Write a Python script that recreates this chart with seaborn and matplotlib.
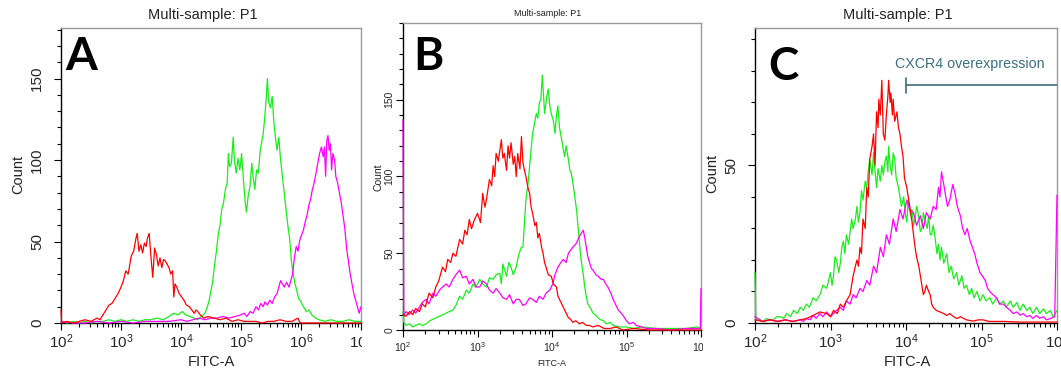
import numpy as np
import pandas as pd
import matplotlib
matplotlib.use("Agg")
import matplotlib.pyplot as plt
import seaborn as sns
from matplotlib.ticker import LogLocator, NullFormatter, MultipleLocator, FixedLocator
from matplotlib.patches import Rectangle

# ---------------- data (log10 FITC-A bin, count) ----------------
a_red_log = [2.00, 2.01, 2.10, 2.20, 2.30, 2.40, 2.50, 2.55, 2.60, 2.65,
             2.70, 2.75, 2.80, 2.85, 2.90, 2.95, 3.00, 3.04, 3.08, 3.12,
             3.17, 3.21, 3.25, 3.27, 3.30, 3.33, 3.36, 3.39, 3.42, 3.44,
             3.47, 3.50, 3.53, 3.56, 3.59, 3.62, 3.65, 3.68, 3.71, 3.74,
             3.77, 3.80, 3.83, 3.86, 3.88, 3.90, 3.93, 3.97, 4.01, 4.05,
             4.09, 4.14, 4.18, 4.22, 4.25, 4.28, 4.32, 4.38, 4.45, 4.55,
             4.65, 4.75, 4.85, 4.95, 5.05, 5.15, 5.25, 5.35, 5.45, 5.55,
             5.65, 5.75, 5.85, 5.95, 5.97, 6.00, 6.10, 6.30, 6.60, 7.00]
a_red_cnt = [8, 0, 1, 0, 1, 2, 1, 2, 3, 2,
             5, 8, 11, 12, 15, 18, 22, 26, 32, 30,
             41, 44, 52, 55, 44, 48, 43, 49, 47, 52,
             55, 40, 28, 46, 42, 35, 40, 34, 39, 38,
             36, 34, 30, 32, 16, 24, 22, 18, 16, 14,
             11, 10, 8, 6, 8, 7, 5, 3, 4, 3,
             2, 3, 1, 2, 1, 1, 1, 0, 1, 1,
             2, 1, 1, 3, 1, 0, 0, 0, 0, 0]

a_grn_log = [2.00, 2.10, 2.20, 2.30, 2.40, 2.50, 2.60, 2.70, 2.80, 2.90,
             3.00, 3.10, 3.20, 3.30, 3.40, 3.50, 3.60, 3.70, 3.80, 3.88,
             3.95, 4.02, 4.08, 4.15, 4.22, 4.28, 4.34, 4.40, 4.44, 4.47,
             4.50, 4.53, 4.56, 4.59, 4.62, 4.65, 4.68, 4.71, 4.74, 4.77,
             4.79, 4.81, 4.84, 4.87, 4.89, 4.92, 4.95, 4.98, 5.01, 5.04,
             5.07, 5.09, 5.12, 5.15, 5.18, 5.20, 5.23, 5.26, 5.29, 5.32,
             5.34, 5.37, 5.40, 5.42, 5.44, 5.46, 5.49, 5.52, 5.55, 5.58,
             5.60, 5.63, 5.66, 5.69, 5.72, 5.75, 5.78, 5.81, 5.84, 5.87,
             5.90, 5.93, 5.96, 6.00, 6.04, 6.09, 6.13, 6.18, 6.24, 6.30,
             6.40, 6.50, 6.60, 6.70, 6.80, 6.90, 7.00]
a_grn_cnt = [1, 0, 1, 0, 1, 0, 1, 1, 2, 1,
             2, 1, 2, 1, 2, 2, 3, 2, 4, 6,
             5, 7, 5, 4, 3, 2, 4, 6, 10, 14,
             20, 26, 36, 44, 54, 60, 70, 74, 82, 86,
             104, 96, 98, 114, 100, 92, 101, 94, 104, 88,
             74, 68, 78, 84, 98, 90, 82, 94, 92, 106,
             110, 116, 128, 138, 150, 136, 132, 139, 122, 112,
             106, 114, 100, 90, 80, 70, 60, 52, 38, 30,
             24, 20, 15, 13, 10, 7, 8, 5, 3, 2,
             1, 2, 1, 1, 2, 1, 1]

a_mag_log = [2.00, 2.20, 2.40, 2.60, 2.80, 3.00, 3.20, 3.40, 3.60, 3.80,
             4.00, 4.10, 4.20, 4.30, 4.40, 4.50, 4.60, 4.70, 4.80, 4.90,
             5.00, 5.05, 5.10, 5.15, 5.20, 5.25, 5.29, 5.33, 5.37, 5.40,
             5.44, 5.48, 5.52, 5.56, 5.60, 5.63, 5.66, 5.69, 5.72, 5.76,
             5.80, 5.83, 5.86, 5.89, 5.92, 5.95, 5.98, 6.01, 6.04, 6.07,
             6.10, 6.13, 6.16, 6.19, 6.22, 6.25, 6.28, 6.31, 6.34, 6.37,
             6.39, 6.41, 6.43, 6.45, 6.47, 6.49, 6.51, 6.53, 6.56, 6.58,
             6.61, 6.64, 6.67, 6.70, 6.73, 6.76, 6.79, 6.82, 6.85, 6.88,
             6.91, 6.94, 6.97, 7.00]
a_mag_cnt = [1, 0, 0, 1, 0, 1, 0, 1, 1, 1,
             2, 1, 2, 3, 2, 3, 3, 4, 3, 4,
             5, 6, 4, 7, 6, 10, 8, 12, 10, 13,
             11, 14, 12, 16, 18, 22, 26, 24, 22, 25,
             22, 26, 30, 40, 47, 44, 51, 54, 57, 62,
             66, 72, 76, 82, 86, 92, 98, 104, 108, 102,
             108, 90, 112, 115, 106, 110, 94, 104, 100, 90,
             86, 80, 74, 66, 58, 46, 38, 30, 24, 18,
             14, 10, 6, 10]

b_red_log = [2.00, 2.04, 2.09, 2.13, 2.17, 2.22, 2.26, 2.30, 2.35, 2.40,
             2.44, 2.48, 2.53, 2.57, 2.60, 2.64, 2.67, 2.71, 2.76, 2.80,
             2.83, 2.86, 2.89, 2.92, 2.96, 3.00, 3.04, 3.07, 3.10, 3.12,
             3.16, 3.19, 3.21, 3.23, 3.25, 3.28, 3.32, 3.34, 3.36, 3.39,
             3.41, 3.43, 3.45, 3.48, 3.50, 3.52, 3.54, 3.57, 3.59, 3.61,
             3.63, 3.65, 3.68, 3.70, 3.72, 3.74, 3.77, 3.79, 3.81, 3.83,
             3.86, 3.88, 3.90, 3.92, 3.95, 3.99, 4.02, 4.06, 4.08, 4.10,
             4.13, 4.15, 4.19, 4.22, 4.25, 4.28, 4.32, 4.37, 4.41, 4.46,
             4.50, 4.55, 4.62, 4.70, 4.78, 4.86, 4.95, 5.10, 5.30, 5.60,
             6.00]
b_red_cnt = [10, 9, 12, 10, 14, 12, 17, 15, 24, 21,
             28, 32, 41, 38, 46, 44, 50, 48, 59, 56,
             65, 62, 72, 66, 72, 76, 70, 89, 80, 85,
             98, 94, 107, 100, 115, 110, 124, 112, 115, 104,
             120, 112, 122, 108, 113, 100, 115, 105, 126, 109,
             104, 100, 92, 89, 80, 76, 68, 70, 60, 63,
             54, 50, 44, 41, 36, 35, 30, 28, 22, 20,
             17, 15, 11, 8, 7, 5, 6, 4, 5, 3,
             3, 2, 3, 1, 1, 2, 0, 1, 0, 0,
             0]

b_grn_log = [2.00, 2.01, 2.04, 2.09, 2.13, 2.17, 2.22, 2.26, 2.31, 2.36,
             2.40, 2.45, 2.49, 2.54, 2.58, 2.62, 2.67, 2.71, 2.76, 2.80,
             2.85, 2.89, 2.94, 2.98, 3.03, 3.07, 3.12, 3.16, 3.21, 3.25,
             3.30, 3.32, 3.34, 3.37, 3.39, 3.42, 3.45, 3.48, 3.52, 3.54,
             3.56, 3.59, 3.61, 3.63, 3.65, 3.68, 3.70, 3.72, 3.74, 3.77,
             3.79, 3.81, 3.83, 3.85, 3.87, 3.89, 3.90, 3.93, 3.95, 3.97,
             3.99, 4.02, 4.04, 4.06, 4.08, 4.10, 4.13, 4.15, 4.17, 4.19,
             4.22, 4.24, 4.26, 4.28, 4.30, 4.33, 4.35, 4.37, 4.39, 4.42,
             4.44, 4.46, 4.48, 4.52, 4.55, 4.60, 4.64, 4.69, 4.73, 4.78,
             4.82, 4.90, 5.00, 5.10, 5.20, 5.40, 5.60, 5.80, 5.95, 6.00]
b_grn_cnt = [12, 5, 3, 4, 2, 3, 4, 3, 4, 6,
             7, 8, 9, 10, 11, 12, 13, 16, 22, 20,
             26, 24, 30, 28, 33, 30, 28, 34, 33, 36,
             37, 30, 43, 38, 35, 44, 41, 36, 41, 46,
             50, 54, 54, 70, 85, 96, 107, 118, 128, 136,
             141, 138, 148, 150, 166, 150, 141, 152, 157, 146,
             141, 136, 128, 140, 146, 132, 124, 118, 113, 120,
             111, 104, 102, 96, 89, 78, 67, 56, 46, 36,
             28, 22, 17, 14, 11, 9, 7, 6, 4, 5,
             3, 2, 2, 1, 2, 1, 1, 1, 2, 1]

b_mag_log = [2.00, 2.01, 2.04, 2.08, 2.13, 2.17, 2.22, 2.26, 2.31, 2.35,
             2.40, 2.44, 2.49, 2.53, 2.58, 2.62, 2.67, 2.71, 2.76, 2.80,
             2.85, 2.89, 2.94, 2.98, 3.03, 3.07, 3.12, 3.16, 3.21, 3.25,
             3.30, 3.34, 3.39, 3.43, 3.48, 3.52, 3.56, 3.61, 3.65, 3.70,
             3.74, 3.79, 3.83, 3.88, 3.92, 3.97, 4.01, 4.04, 4.08, 4.12,
             4.15, 4.19, 4.22, 4.25, 4.28, 4.32, 4.35, 4.38, 4.42, 4.44,
             4.46, 4.48, 4.51, 4.53, 4.55, 4.59, 4.62, 4.66, 4.69, 4.72,
             4.75, 4.79, 4.82, 4.86, 4.89, 4.93, 4.96, 5.00, 5.04, 5.09,
             5.13, 5.20, 5.27, 5.40, 5.60, 5.80, 5.99, 6.00]
b_mag_cnt = [137, 9, 12, 10, 13, 11, 15, 18, 20, 17,
             24, 22, 26, 28, 30, 28, 33, 36, 39, 34,
             35, 30, 33, 28, 28, 32, 30, 26, 24, 27,
             24, 21, 20, 23, 17, 20, 20, 16, 17, 21,
             20, 18, 22, 20, 24, 26, 30, 36, 41, 44,
             46, 44, 50, 52, 54, 56, 59, 62, 65, 60,
             54, 48, 43, 40, 39, 36, 35, 33, 33, 30,
             28, 24, 20, 16, 13, 11, 9, 6, 4, 5,
             3, 2, 1, 1, 0, 1, 1, 27]

c_red_log = [2.00, 2.10, 2.20, 2.30, 2.40, 2.50, 2.60, 2.68, 2.77, 2.86,
             2.95, 3.00, 3.04, 3.09, 3.13, 3.17, 3.21, 3.26, 3.30, 3.35,
             3.37, 3.39, 3.41, 3.43, 3.46, 3.48, 3.50, 3.52, 3.55, 3.57,
             3.59, 3.61, 3.63, 3.64, 3.66, 3.68, 3.69, 3.70, 3.72, 3.74,
             3.76, 3.77, 3.79, 3.80, 3.82, 3.83, 3.85, 3.88, 3.90, 3.92,
             3.94, 3.96, 3.98, 4.01, 4.03, 4.05, 4.08, 4.10, 4.12, 4.14,
             4.17, 4.19, 4.21, 4.23, 4.25, 4.27, 4.30, 4.32, 4.34, 4.36,
             4.40, 4.45, 4.50, 4.54, 4.58, 4.63, 4.68, 4.72, 4.80, 4.89,
             4.96, 5.02, 5.10, 5.30, 5.50, 5.80, 6.00]
c_red_cnt = [1, 0.5, 1, 0.5, 1, 0.5, 1, 1.4, 2.4, 3.5,
             3, 2, 4, 3, 6, 5, 7, 9, 15, 20,
             18, 24, 22, 33, 30, 43, 40, 52, 56, 60,
             50, 67, 62, 71, 66, 77, 68, 60, 58, 66,
             72, 77, 70, 73, 66, 71, 64, 67, 62, 60,
             56, 53, 46, 43, 40, 37, 32, 28, 24, 21,
             18, 15, 12, 9, 10, 12, 10, 9, 6, 5,
             4, 3.5, 3, 2.4, 3, 2, 1.4, 2, 1, 0.6,
             1, 1, 0.5, 0.5, 0.3, 0.3, 0.3]

c_grn_log = [2.00, 2.01, 2.07, 2.11, 2.15, 2.20, 2.24, 2.29, 2.33, 2.38,
             2.42, 2.47, 2.51, 2.56, 2.60, 2.64, 2.68, 2.72, 2.77, 2.81,
             2.86, 2.90, 2.95, 2.98, 3.00, 3.02, 3.04, 3.06, 3.08, 3.11,
             3.13, 3.15, 3.17, 3.19, 3.21, 3.24, 3.26, 3.28, 3.30, 3.33,
             3.35, 3.37, 3.39, 3.41, 3.43, 3.46, 3.48, 3.50, 3.52, 3.55,
             3.57, 3.59, 3.61, 3.63, 3.66, 3.68, 3.70, 3.72, 3.74, 3.76,
             3.77, 3.79, 3.81, 3.83, 3.85, 3.87, 3.90, 3.92, 3.94, 3.97,
             3.99, 4.01, 4.03, 4.06, 4.08, 4.10, 4.12, 4.14, 4.16, 4.19,
             4.21, 4.23, 4.25, 4.28, 4.30, 4.32, 4.34, 4.36, 4.38, 4.41,
             4.43, 4.45, 4.47, 4.50, 4.54, 4.57, 4.60, 4.63, 4.67, 4.70,
             4.74, 4.77, 4.80, 4.84, 4.87, 4.90, 4.94, 4.98, 5.02, 5.06,
             5.11, 5.15, 5.20, 5.24, 5.29, 5.33, 5.38, 5.42, 5.47, 5.51,
             5.55, 5.60, 5.64, 5.68, 5.73, 5.77, 5.82, 5.86, 5.91, 5.95,
             6.00]
c_grn_cnt = [16, 1, 1, 0.5, 1.4, 1, 1, 2, 2, 1.5,
             3, 2, 4, 3, 5, 4, 6, 5, 8, 7,
             9, 12, 11, 14, 16, 12, 15, 21, 20, 16,
             19, 24, 26, 22, 28, 25, 29, 33, 30, 33,
             37, 32, 35, 42, 39, 45, 43, 48, 52, 47,
             54, 48, 43, 49, 45, 50, 47, 51, 53, 48,
             56, 50, 47, 54, 52, 46, 43, 40, 37, 40,
             35, 32, 39, 34, 36, 31, 33, 37, 35, 29,
             30, 35, 33, 30, 34, 28, 28, 31, 28, 22,
             25, 20, 24, 19, 22, 16, 18, 14, 16, 12,
             15, 11, 12, 9, 11, 8, 10, 7, 9, 7,
             8, 6, 8, 6, 7, 5, 7, 5, 6.5, 4,
             6, 4, 5, 3, 5, 3, 4.5, 3, 4, 2,
             4]

c_mag_log = [2.00, 2.10, 2.20, 2.30, 2.40, 2.50, 2.60, 2.64, 2.68, 2.73,
             2.77, 2.81, 2.86, 2.90, 2.95, 3.00, 3.04, 3.08, 3.13, 3.17,
             3.21, 3.26, 3.30, 3.34, 3.39, 3.43, 3.48, 3.52, 3.57, 3.61,
             3.66, 3.70, 3.74, 3.78, 3.83, 3.87, 3.92, 3.96, 4.01, 4.05,
             4.10, 4.14, 4.19, 4.23, 4.27, 4.32, 4.36, 4.40, 4.43, 4.45,
             4.47, 4.50, 4.52, 4.55, 4.58, 4.62, 4.65, 4.68, 4.72, 4.75,
             4.78, 4.81, 4.85, 4.88, 4.91, 4.94, 4.98, 5.01, 5.05, 5.08,
             5.11, 5.15, 5.20, 5.24, 5.29, 5.33, 5.38, 5.42, 5.47, 5.51,
             5.55, 5.60, 5.64, 5.68, 5.73, 5.77, 5.82, 5.86, 5.91, 5.97,
             6.00]
c_mag_cnt = [2, 0.5, 1, 0.5, 1, 0.5, 1, 0.5, 1.4, 1,
             2.4, 1.5, 3, 2, 3.5, 2, 3, 4, 5, 4,
             7, 6, 9, 8, 11, 10, 13.5, 12, 18, 16,
             24, 21, 28, 25, 33, 29, 36, 33, 39, 36,
             35, 31, 34, 30, 35, 33, 37, 36, 43, 40,
             48, 44, 41, 37, 39, 44, 41, 37, 34, 30,
             28, 30, 26, 24, 22, 19, 16, 15, 13.5, 11,
             10, 9, 8, 6, 6, 5, 4, 3, 3.5, 2.5,
             3, 2, 2.4, 1.5, 2.4, 1.5, 2, 1, 1.4, 2,
             40.6]

samples = ["green", "magenta", "red"]
palette = {"red": "#ff0000", "green": "#19ee19", "magenta": "#ff00ff"}

panel_data = {
    "A": {"red": (a_red_log, a_red_cnt), "green": (a_grn_log, a_grn_cnt), "magenta": (a_mag_log, a_mag_cnt)},
    "B": {"red": (b_red_log, b_red_cnt), "green": (b_grn_log, b_grn_cnt), "magenta": (b_mag_log, b_mag_cnt)},
    "C": {"red": (c_red_log, c_red_cnt), "green": (c_grn_log, c_grn_cnt), "magenta": (c_mag_log, c_mag_cnt)},
}

x_decades = {"A": [2, 3, 4, 5, 6, 7], "B": [2, 3, 4, 5, 6], "C": [2, 3, 4, 5, 6]}
y_major = {"A": [0, 50, 100, 150], "B": [0, 50, 100, 150], "C": [0, 50]}
y_top = {"A": 181, "B": 200, "C": 93.6}

title_text = "Multi-sample: P1"
x_label = "FITC-A"
y_label = "Count"
gate_text = "CXCR4 overexpression"
gate_start, gate_end, gate_level = 1e4, 1e6, 75.5

# ---------------- figure ----------------
W, H = 1061, 376
sns.set_style("ticks")
plt.rcParams["font.family"] = ["Liberation Sans", "DejaVu Sans"]
plt.rcParams["mathtext.fontset"] = "custom"
plt.rcParams["mathtext.rm"] = "Liberation Sans"
plt.rcParams["mathtext.it"] = "Liberation Sans:italic"
plt.rcParams["mathtext.bf"] = "Liberation Sans:bold"

fig = plt.figure(figsize=(W / 100, H / 100), dpi=100)
fig.patch.set_facecolor("white")


def rect(l, t, r, b):
    return [l / W, 1 - b / H, (r - l) / W, (b - t) / H]


def fp(x, y):
    return x / W, 1 - y / H


layout = {
    "A": dict(box=rect(61, 28, 361, 323), tick=11, ypad=7, title=(203, 15, 10.5),
              ylab=(18, 174, 10.5), xlab=(211, 362, 10.5), letter=(65, 70)),
    "B": dict(box=rect(403, 23, 701, 330), tick=7.5, ypad=1, title=(548, 13, 6.5),
              ylab=(378, 177, 7.5), xlab=(552, 364, 6.5), letter=(413, 70)),
    "C": dict(box=rect(755, 28, 1057, 323), tick=11, ypad=7, title=(898, 15, 10.5),
              ylab=(712, 173, 10.5), xlab=(907, 362, 10.5), letter=(768, 80)),
}

for key in ["A", "B", "C"]:
    L = layout[key]
    ax = fig.add_axes(L["box"])
    frames = []
    for s in samples:
        lg, ct = panel_data[key][s]
        frames.append(pd.DataFrame({"fitc": 10 ** np.asarray(lg, dtype=float),
                                    "count": np.asarray(ct, dtype=float),
                                    "sample": s}))
    df = pd.concat(frames, ignore_index=True)
    sns.lineplot(data=df, x="fitc", y="count", hue="sample", hue_order=samples,
                 palette=palette, estimator=None, sort=False, legend=False,
                 lw=0.9, zorder=3, ax=ax)
    for ln in ax.lines:
        ln.set_clip_on(False)
    ax.set_xscale("log")
    dec = x_decades[key]
    ax.set_xlim(10 ** dec[0], 10 ** dec[-1])
    ax.set_ylim(0, y_top[key])
    ax.set_xticks([10 ** d for d in dec])
    ax.set_xticklabels([r"$\mathregular{10^{%d}}$" % d for d in dec])
    ax.xaxis.set_minor_locator(LogLocator(base=10, subs=np.arange(2, 10)))
    ax.xaxis.set_minor_formatter(NullFormatter())
    ax.yaxis.set_major_locator(FixedLocator(y_major[key]))
    ax.set_yticklabels([str(v) for v in y_major[key]])
    ax.yaxis.set_minor_locator(MultipleLocator(10))
    ax.set_xlabel("")
    ax.set_ylabel("")
    ax.tick_params(axis="both", which="major", direction="out", length=5, width=0.8,
                   color="black", labelsize=L["tick"])
    ax.tick_params(axis="both", which="minor", direction="out", length=3, width=0.8,
                   color="black")
    ax.tick_params(axis="x", which="major", pad=2)
    ax.tick_params(axis="y", which="major", pad=L["ypad"], labelrotation=90)
    for lbl in ax.get_yticklabels():
        lbl.set_va("center")
    for sp in ["left", "bottom"]:
        ax.spines[sp].set_color("black")
        ax.spines[sp].set_linewidth(1.0)
    for sp in ["top", "right"]:
        ax.spines[sp].set_color("#9a9a9a")
        ax.spines[sp].set_linewidth(1.0)
    ax.set_facecolor("white")

    tx, ty, ts = L["title"]
    fig.text(*fp(tx, ty), title_text, ha="center", va="center", fontsize=ts, color="#222222")
    yx, yy, ys = L["ylab"]
    fig.text(*fp(yx, yy), y_label, ha="center", va="center", rotation=90, fontsize=ys, color="#222222")
    xx, xy, xs = L["xlab"]
    fig.text(*fp(xx, xy), x_label, ha="center", va="center", fontsize=xs, color="#222222")
    lx, ly = L["letter"]
    fig.text(*fp(lx, ly), key, ha="left", va="baseline", fontsize=33,
             fontweight="bold", family=["Lato", "DejaVu Sans"], color="black")

    if key == "C":
        gate_col = "#3b6f80"
        ax.plot([gate_start, gate_end], [gate_level, gate_level], color=gate_col, lw=1.2,
                clip_on=False, zorder=5)
        ax.plot([gate_start, gate_start], [gate_level - 2.5, gate_level + 2.3], color=gate_col,
                lw=1.2, zorder=5)
        fig.text(*fp(895, 64), gate_text, ha="left", va="center", fontsize=10.3, color=gate_col)

# mask the cut-off tick labels at the panel borders (the panels are cropped in the source)
for (x0, x1) in [(362, 378), (703, 717)]:
    fig.add_artist(Rectangle((x0 / W, 1 - 362 / H), (x1 - x0) / W, 30 / H,
                             transform=fig.transFigure, facecolor="white",
                             edgecolor="none", zorder=20))

fig.savefig("out.png", dpi=100, facecolor="white")
